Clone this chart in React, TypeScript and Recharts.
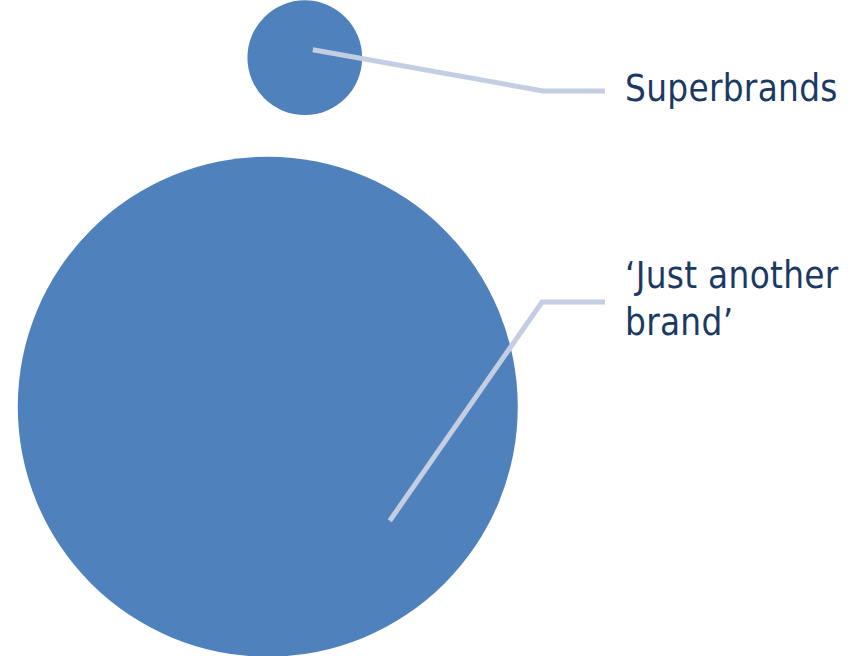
import React from 'react';
import { ScatterChart, Scatter, XAxis, YAxis, ZAxis } from 'recharts';

// Data
const brandNames: string[][] = [['Superbrands'], ['‘Just another', 'brand’']];
const brandShares: number[] = [5, 95];
const brandX: number[] = [35.4, 31.1];
const brandY: number[] = [91.2, 38.0];

const data = brandNames.map((lines, i) => ({
  name: lines.join(' '),
  lines,
  x: brandX[i],
  y: brandY[i],
  z: brandShares[i],
}));

const W = 861;
const H = 656;
const MAX_R = 250;

// leader line styling (offsets from bubble centre, elbow and label anchors)
const leaderStyle = [
  { start: [8, -8], elbow: [543, 91], end: [605, 91], textY: 101 },
  { start: [122, 114], elbow: [542, 302], end: [605, 302], textY: 288 },
];

const BubbleShape = (props: any) => {
  const { cx, cy, width, index, payload } = props;
  const r = width / 2;
  const st = leaderStyle[index] || leaderStyle[0];
  const sx = cx + st.start[0];
  const sy = cy + st.start[1];
  return (
    <g>
      <circle cx={cx} cy={cy} r={r} fill="#4F81BD" />
      <polyline
        points={`${sx},${sy} ${st.elbow[0]},${st.elbow[1]} ${st.end[0]},${st.end[1]}`}
        fill="none"
        stroke="#C3CEE3"
        strokeWidth={5}
      />
      <text
        x={625}
        y={st.textY}
        fill="#1B3A63"
        fontSize={36.5}
        letterSpacing={0.3}
        fontFamily="'DejaVu Sans Condensed', 'DejaVu Sans', sans-serif"
      >
        {payload.lines.map((l: string, i: number) => (
          <tspan key={i} x={625} dy={i === 0 ? 0 : 47}>
            {l}
          </tspan>
        ))}
      </text>
    </g>
  );
};

export default function App() {
  return (
    <div style={{ position: 'absolute', left: 0, top: 0, width: W, height: H, background: '#fff' }}>
      <ScatterChart width={W} height={H} margin={{ top: 0, right: 0, bottom: 0, left: 0 }}>
        <XAxis type="number" dataKey="x" domain={[0, 100]} hide />
        <YAxis type="number" dataKey="y" domain={[0, 100]} hide />
        <ZAxis type="number" dataKey="z" domain={[0, 95]} range={[0, Math.PI * MAX_R * MAX_R]} />
        <Scatter data={data} isAnimationActive={false} shape={BubbleShape} />
      </ScatterChart>
    </div>
  );
}
